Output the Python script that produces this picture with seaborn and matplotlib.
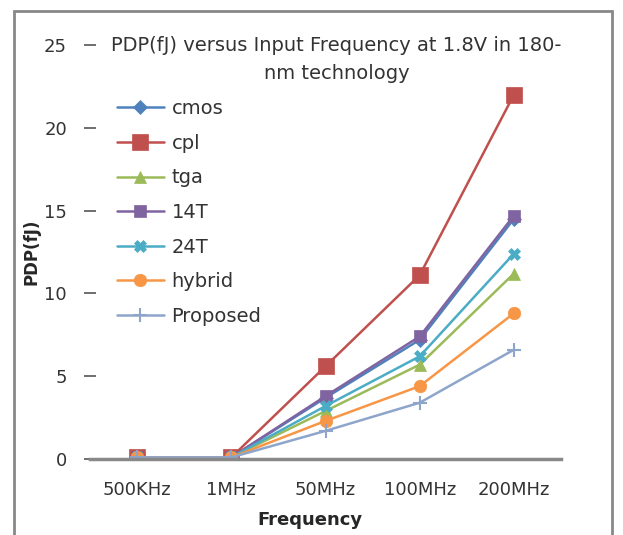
import matplotlib
matplotlib.use("Agg")
import matplotlib.pyplot as plt
import seaborn as sns
import pandas as pd
from matplotlib.patches import Rectangle

frequencies = ["500KHz", "1MHz", "50MHz", "100MHz", "200MHz"]
cmos = [0.1, 0.1, 3.7, 7.2, 14.5]
cpl = [0.1, 0.1, 5.6, 11.1, 22.0]
tga = [0.1, 0.1, 2.9, 5.7, 11.2]
t14 = [0.1, 0.1, 3.8, 7.4, 14.7]
t24 = [0.1, 0.1, 3.2, 6.2, 12.4]
hybrid = [0.1, 0.1, 2.3, 4.4, 8.8]
proposed = [0.1, 0.1, 1.7, 3.4, 6.6]

series = {"cmos": cmos, "cpl": cpl, "tga": tga, "14T": t14,
          "24T": t24, "hybrid": hybrid, "Proposed": proposed}

rows = []
for name, vals in series.items():
    for f, v in zip(frequencies, vals):
        rows.append({"Frequency": f, "PDP": v, "series": name})
df = pd.DataFrame(rows)

sns.set_style("white")
plt.rcParams["font.family"] = ["DejaVu Sans"]

palette = {"cmos": "#4F81BD", "cpl": "#C0504D", "tga": "#9BBB59", "14T": "#8064A2",
           "24T": "#4BACC6", "hybrid": "#F79646", "Proposed": "#8EA5CB"}
markers = {"cmos": "D", "cpl": "s", "tga": "^", "14T": "s",
           "24T": "X", "hybrid": "o", "Proposed": "+"}
sizes = {"cmos": 7, "cpl": 11, "tga": 8, "14T": 9, "24T": 8, "hybrid": 9, "Proposed": 10}

fig = plt.figure(figsize=(6.23, 5.35), dpi=100)
ax = fig.add_axes([0.1445, 0.142, 0.756, 0.774])

for name in series:
    sub = df[df.series == name]
    sns.lineplot(data=sub, x="Frequency", y="PDP", ax=ax, color=palette[name],
                 marker=markers[name], markersize=sizes[name], linewidth=1.8,
                 markeredgecolor=palette[name], markeredgewidth=1.5 if name == "Proposed" else 0.5,
                 label=name, sort=False)

ax.set_xlim(-0.5, 4.5)
ax.set_ylim(0, 25)
ax.set_yticks([0, 5, 10, 15, 20, 25])
ax.set_xticks(range(len(frequencies)))
ax.set_xticklabels(frequencies)
ax.set_xticks([i - 0.5 for i in range(len(frequencies) + 1)], minor=True)
ax.tick_params(axis="x", which="major", length=0, labelsize=13, colors="#333333", pad=16)
ax.tick_params(axis="x", which="minor", length=5, color="#888888", direction="out", width=1.5)
ax.tick_params(axis="y", length=9, width=1.2, color="#555555", labelsize=13, colors="#333333",
               pad=12, direction="inout", left=True)
for s in ["top", "right", "left"]:
    ax.spines[s].set_visible(False)
ax.spines["bottom"].set_color("#888888")
ax.spines["bottom"].set_linewidth(2.5)

ax.set_xlabel("Frequency", fontsize=13, fontweight="bold")
ax.xaxis.set_label_coords(0.467, -0.125)
ax.set_ylabel("PDP(fJ)", fontsize=12, fontweight="bold")
ax.yaxis.set_label_coords(-0.106, 0.5)

leg = ax.legend(loc="upper left", bbox_to_anchor=(0.02, 0.911), frameon=False,
                fontsize=14, labelspacing=0.8, handlelength=2.4, handletextpad=0.4,
                labelcolor="#333333")

fig.text(0.54, 0.888, "PDP(fJ) versus Input Frequency at 1.8V in 180-\nnm technology",
         ha="center", va="center", fontsize=14, color="#333333", linespacing=1.6)

fig.patches.append(Rectangle((0.022, -0.01), 0.96, 0.99, transform=fig.transFigure,
                             fill=False, edgecolor="#888888", linewidth=2))

fig.savefig("out.png", dpi=100)
